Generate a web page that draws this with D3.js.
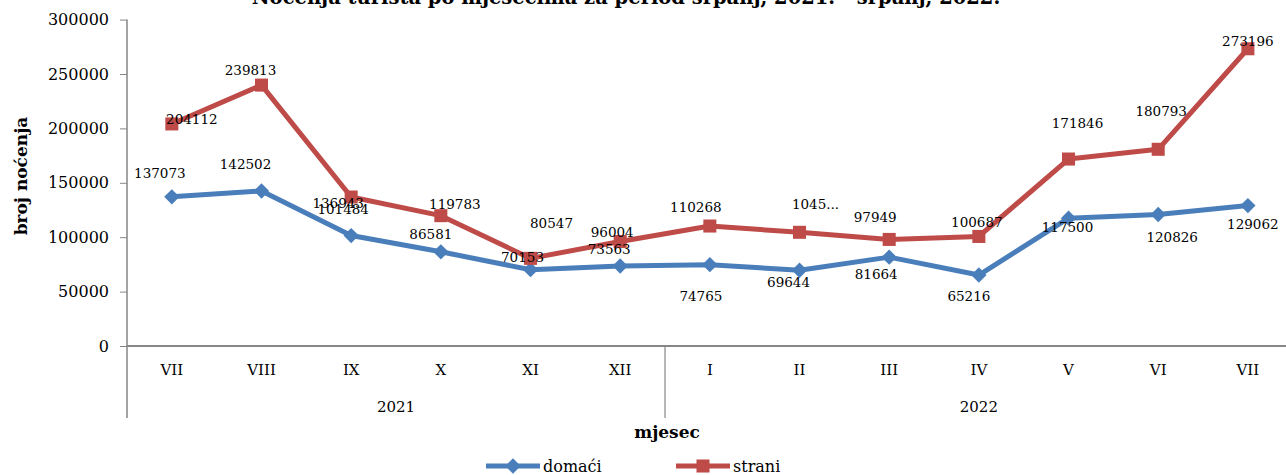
<!DOCTYPE html>
<html>
<head>
<meta charset="utf-8">
<script src="https://cdn.jsdelivr.net/npm/d3@7"></script>
<style>
  body { margin: 0; background: #fff; }
  svg { display: block; font-family: "DejaVu Serif", serif; }
</style>
</head>
<body>
<svg width="1286" height="475"></svg>
<script>
// data

const months = ["VII", "VIII", "IX", "X", "XI", "XII", "I", "II", "III", "IV", "V", "VI", "VII"];
const years = ["2021", "2022"];
const yearSpan = [6, 7];
const domaci = [137073, 142502, 101484, 86581, 70153, 73563, 74765, 69644, 81664, 65216, 117500, 120826, 129062];
const strani = [204112, 239813, 136943, 119783, 80547, 96004, 110268, 104500, 97949, 100687, 171846, 180793, 273196];
const straniText = ["204112", "239813", "136943", "119783", "80547", "96004", "110268", "1045...", "97949", "100687", "171846", "180793", "273196"];
const yTicks = [0, 50000, 100000, 150000, 200000, 250000, 300000];

// label placement (dx, dy from the point)

const domOff = [[-12,-24],[-16,-27],[-8,-27],[-10,-18],[-8,-13],[-11,-17],[-9,31],[-11,12],[-13,17],[-10,21],[-1,9],[14,22],[5,18]];
const strOff = [[20,-5],[-11,-15],[-13,6],[14,-12],[21,-35],[-8,-10],[-14,-19],[16,-28],[-14,-22],[-2,-14],[9,-36],[3,-38],[0,-8]];

const blue = "#4a7ebb", red = "#be4b48", axisCol = "#868686";

const svg = d3.select("svg");

// scales

const left = 127, bw = 89.67;
const x = d3.scaleBand()
            .domain(d3.range(months.length))
            .range([left, left + bw * months.length]);

const y = d3.scaleLinear()
            .domain([0, 300000])
            .range([346, 19.6]);

const cx = i => x(i) + x.bandwidth() / 2;

// title (cut off at the top)

svg.append("text")
   .attr("x", 626).attr("y", 4)
   .attr("text-anchor", "middle")
   .style("font-weight", "bold").style("font-size", "19.5px")
   .text("Noćenja turista po mjesecima za period srpanj, 2021. - srpanj, 2022.");

// y axis

const yAxis = svg.append("g")
   .attr("transform", `translate(${left},0)`)
   .call(d3.axisLeft(y).tickValues(yTicks).tickSize(7).tickPadding(11).tickFormat(d3.format("d")));
yAxis.select(".domain").remove();
yAxis.selectAll("line").attr("stroke", axisCol);
yAxis.selectAll("text").style("font-family", "DejaVu Serif").style("font-size", "16px").attr("fill", "#000");

svg.append("line")
   .attr("x1", left).attr("x2", left)
   .attr("y1", y(300000)).attr("y2", 418)
   .attr("stroke", axisCol).attr("stroke-width", 1.5);

// x axis

svg.append("line")
   .attr("x1", left).attr("x2", 1286)
   .attr("y1", y(0)).attr("y2", y(0))
   .attr("stroke", axisCol).attr("stroke-width", 2);

const xAxis = svg.append("g")
   .attr("transform", `translate(0,${y(0)})`)
   .call(d3.axisBottom(x).tickSize(0).tickPadding(18).tickFormat(i => months[i]));
xAxis.select(".domain").remove();
xAxis.selectAll("text").style("font-family", "DejaVu Serif").style("font-size", "15px").attr("fill", "#000");

// year groups

let start = 0;
years.forEach((yr, k) => {
  const a = x(start), b = x(start + yearSpan[k] - 1) + x.bandwidth();
  svg.append("text")
     .attr("x", (a + b) / 2).attr("y", 407)
     .attr("text-anchor", "middle").attr("dominant-baseline", "central")
     .style("font-size", "15px")
     .text(yr);
  if (k > 0) {
    svg.append("line")
       .attr("x1", a).attr("x2", a)
       .attr("y1", y(0)).attr("y2", 418)
       .attr("stroke", axisCol).attr("stroke-width", 1.2);
  }
  start += yearSpan[k];
});

// axis titles

svg.append("text")
   .attr("x", 667).attr("y", 432)
   .attr("text-anchor", "middle").attr("dominant-baseline", "central")
   .style("font-weight", "bold").style("font-size", "17px")
   .text("mjesec");

svg.append("text")
   .attr("transform", "translate(21,176) rotate(-90)")
   .attr("text-anchor", "middle").attr("dominant-baseline", "central")
   .style("font-weight", "bold").style("font-size", "17px")
   .text("broj noćenja");

// lines

const line = d3.line().x((d, i) => cx(i)).y(d => y(d));

const diamond = d3.symbol().type(d3.symbolDiamond2).size(150);
const square = d3.symbol().type(d3.symbolSquare).size(170);

function series(vals, color, sym) {
  svg.append("path")
     .datum(vals)
     .attr("fill", "none")
     .attr("stroke", color)
     .attr("stroke-width", 5)
     .attr("stroke-linejoin", "round")
     .attr("d", line);
  svg.selectAll(null)
     .data(vals)
     .enter()
     .append("path")
     .attr("transform", (d, i) => `translate(${cx(i)},${y(d)})`)
     .attr("fill", color)
     .attr("d", sym);
}

series(domaci, blue, diamond);
series(strani, red, square);

// labels

function labels(vals, texts, off) {
  svg.selectAll(null)
     .data(vals)
     .enter()
     .append("text")
     .attr("x", (d, i) => cx(i) + off[i][0])
     .attr("y", (d, i) => y(d) + off[i][1])
     .attr("text-anchor", "middle").attr("dominant-baseline", "central")
     .style("font-size", "13.5px")
     .text((d, i) => texts[i]);
}

labels(domaci, domaci.map(String), domOff);
labels(strani, straniText, strOff);

// legend

const legend = [
  { name: "domaći", color: blue, sym: diamond, x0: 486 },
  { name: "strani", color: red, sym: square, x0: 676 }
];

legend.forEach(l => {
  const g = svg.append("g").attr("transform", `translate(${l.x0},466)`);
  g.append("line").attr("x1", 0).attr("x2", 54).attr("stroke", l.color).attr("stroke-width", 5);
  g.append("path").attr("transform", "translate(27,0)").attr("fill", l.color).attr("d", l.sym);
  g.append("text")
   .attr("x", 57).attr("y", 0)
   .attr("dominant-baseline", "central")
   .style("font-size", "16px")
   .text(l.name);
});
</script>
</body>
</html>
